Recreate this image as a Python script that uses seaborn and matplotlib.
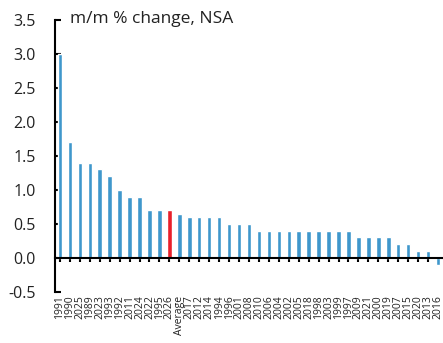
import pandas as pd
import matplotlib.pyplot as plt
import seaborn as sns

# Monthly % change by year, sorted (NSA)
years = ['1991', '1990', '2025', '1989', '2023', '1993', '1992', '2011', '2024', '2022',
         '1995', '2026', 'Average', '2017', '2012', '2014', '1994', '1996', '2001', '2008',
         '2010', '2006', '2004', '2002', '2005', '2018', '1998', '2003', '1999', '1997',
         '2009', '2021', '2000', '2019', '2007', '2015', '2020', '2013', '2016']
values = [3.0, 1.7, 1.4, 1.4, 1.3, 1.2, 1.0, 0.9, 0.9, 0.7,
          0.7, 0.7, 0.65, 0.6, 0.6, 0.6, 0.6, 0.5, 0.5, 0.5,
          0.4, 0.4, 0.4, 0.4, 0.4, 0.4, 0.4, 0.4, 0.4, 0.4,
          0.3, 0.3, 0.3, 0.3, 0.2, 0.2, 0.1, 0.1, -0.1]
highlight = '2026'

df = pd.DataFrame({'year': years, 'change': values})
colors = ['#e8202a' if y == highlight else '#3f97cc' for y in years]

sns.set_style("white")
plt.rcParams['font.family'] = ['Open Sans', 'DejaVu Sans']

fig = plt.figure(figsize=(4.43, 3.43), dpi=100)
ax = fig.add_axes([0.124, 0.149, 0.876, 0.793])
sns.barplot(data=df, x='year', y='change', hue='year', palette=colors,
            legend=False, width=0.45, saturation=1, ax=ax)

ax.set_xlim(-0.5, len(years) - 0.5)
ax.set_ylim(-0.5, 3.5)
ax.set_yticks([-0.5, 0, 0.5, 1.0, 1.5, 2.0, 2.5, 3.0, 3.5])
ax.set_yticklabels(['-0.5', '0.0', '0.5', '1.0', '1.5', '2.0', '2.5', '3.0', '3.5'])
ax.set_xlabel('')
ax.set_ylabel('')

for s in ['top', 'right']:
    ax.spines[s].set_visible(False)
ax.spines['left'].set_color('black')
ax.spines['left'].set_linewidth(1.5)
ax.spines['bottom'].set_color('black')
ax.spines['bottom'].set_linewidth(1.5)
ax.spines['bottom'].set_position(('data', 0))

ax.tick_params(axis='y', direction='in', length=4, width=1.5, labelsize=11.5, pad=14,
               left=True, colors='black')
ax.tick_params(axis='x', direction='out', length=3, width=1.5, labelsize=7.5,
               rotation=90, pad=24, bottom=True, colors='black')
for lbl in ax.get_xticklabels():
    lbl.set_color('#222222')
for lbl in ax.get_yticklabels():
    lbl.set_color('#222222')

ax.text(0.04, 1.005, 'm/m % change, NSA', transform=ax.transAxes,
        fontsize=12.5, color='#222222', va='center', ha='left')

plt.savefig('out.png', dpi=100)
plt.close()
